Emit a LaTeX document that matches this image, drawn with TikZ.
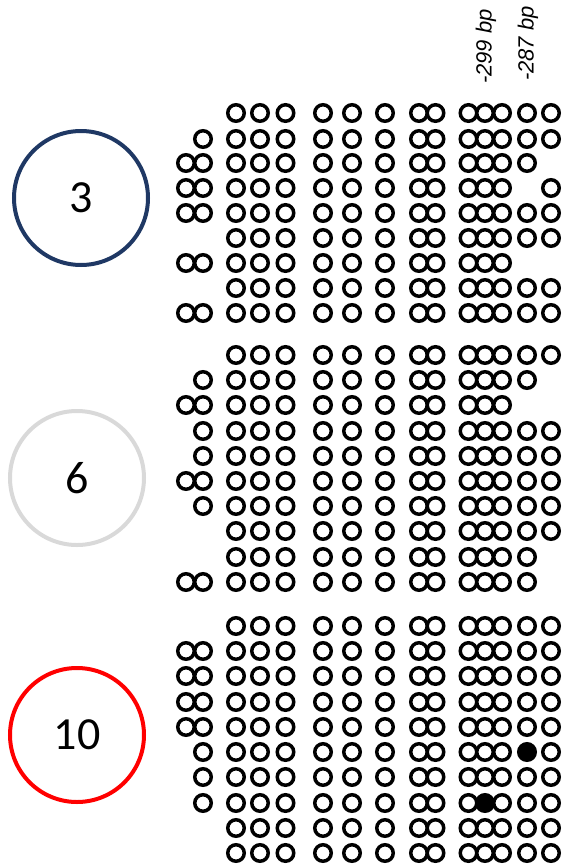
\documentclass[tikz,border=0pt]{standalone}
\usepackage{fontspec}
\setmainfont{Carlito}
\newfontfamily\labfont{Liberation Sans}
\usepackage{tikz}
\usetikzlibrary{positioning}
\definecolor{navyc}{HTML}{1F3864}
\definecolor{greyc}{HTML}{D9D9D9}
\definecolor{redc}{HTML}{FF0000}
\tikzset{
  cpg/.style={circle,draw=black,line width=3.5pt,fill=white,inner sep=0pt,minimum size=16.5pt},
  cpgon/.style={cpg,fill=black},
  grp/.style={circle,line width=4pt,inner sep=0pt,minimum size=134pt,font=\fontsize{46}{46}\selectfont},
  bp/.style={rotate=90,anchor=east,inner sep=0pt,font=\labfont\itshape\fontsize{22}{22}\selectfont},
}
% column positions: 2 left, 8 core, 5 right
\def\colx{{186,203,236,260,285.5,323,352,385,419,435.5,468.5,485,502,527,551}}
% #1 name, #2 y, #3 left codes, #4 right codes (0 none, 1 open, 2 filled)
\newcommand{\cpgrow}[4]{%
  \foreach \c [count=\k] in {#3,1,1,1,1,1,1,1,1,#4} {
    \pgfmathsetmacro{\cx}{\colx[\k-1]}
    \ifnum\c=1 \node[cpg] (#1-\k) at (\cx,#2) {};\fi
    \ifnum\c=2 \node[cpgon] (#1-\k) at (\cx,#2) {};\fi
  }}

\begin{document}
\begin{tikzpicture}[x=1pt,y=-1pt]
  \useasboundingbox (0,0) rectangle (565,868);
  \node[grp,draw=navyc] (g3) at (81,198) {3};
  \node[grp,draw=greyc] (g6) at (77,478) {6};
  \node[grp,draw=redc] (g10) at (77,735) {10};
  \node[bp] (bp299) at (486,9) {-299 bp};
  \node[bp] (bp287) at (528,6) {-287 bp};
  % group 3
  \cpgrow{a1}{113}{0,0}{1,1,1,1,1}
  \cpgrow{a2}{139}{0,1}{1,1,1,1,1}
  \cpgrow{a3}{163}{1,1}{1,1,1,1,0}
  \cpgrow{a4}{188}{1,1}{1,1,1,0,1}
  \cpgrow{a5}{213}{1,1}{1,1,1,1,1}
  \cpgrow{a6}{238}{0,0}{1,1,1,1,1}
  \cpgrow{a7}{263}{1,1}{1,1,1,0,0}
  \cpgrow{a8}{288}{0,0}{1,1,1,1,1}
  \cpgrow{a9}{313}{1,1}{1,1,1,1,1}
  % group 6
  \cpgrow{b1}{355}{0,0}{1,1,1,1,1}
  \cpgrow{b2}{380}{0,1}{1,1,1,1,0}
  \cpgrow{b3}{405}{1,1}{1,1,1,0,0}
  \cpgrow{b4}{431}{0,1}{1,1,1,1,1}
  \cpgrow{b5}{456}{0,1}{1,1,1,1,1}
  \cpgrow{b6}{481}{1,1}{1,1,1,1,1}
  \cpgrow{b7}{506}{0,1}{1,1,1,1,1}
  \cpgrow{b8}{531}{0,0}{1,1,1,1,1}
  \cpgrow{b9}{557}{0,0}{1,1,1,1,0}
  \cpgrow{b10}{582}{1,1}{1,1,1,1,0}
  % group 10
  \cpgrow{c1}{626}{0,0}{1,1,1,1,1}
  \cpgrow{c2}{651}{1,1}{1,1,1,1,1}
  \cpgrow{c3}{676}{1,1}{1,1,1,1,1}
  \cpgrow{c4}{702}{1,1}{1,1,1,1,1}
  \cpgrow{c5}{727}{1,1}{1,1,1,1,1}
  \cpgrow{c6}{752}{0,1}{1,1,1,2,1}
  \cpgrow{c7}{777}{0,1}{1,1,1,1,1}
  \cpgrow{c8}{803}{0,1}{1,2,1,1,1}
  \cpgrow{c9}{828}{0,0}{1,1,1,1,1}
  \cpgrow{c10}{853}{0,0}{1,1,1,1,1}
\end{tikzpicture}
\end{document}
